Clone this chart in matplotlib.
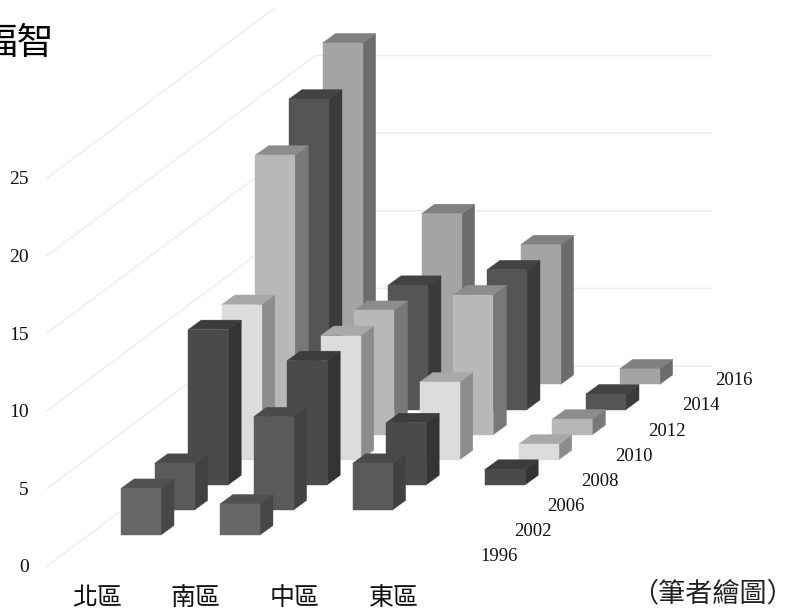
import matplotlib
matplotlib.use('Agg')
import matplotlib.pyplot as plt
from matplotlib.patches import Polygon

SERIF = ['Liberation Serif', 'DejaVu Serif']
CJK = ['Noto Sans CJK TC', 'DejaVu Sans']

regions = ['北區', '南區', '中區', '東區']
years = ['1996', '2002', '2006', '2008', '2010', '2012', '2014', '2016']
north = [3, 3, 10, 10, 18, 20, 22, 0]
south = [2, 6, 8, 8, 8, 8, 11, 0]
central = [0, 3, 4, 5, 9, 9, 9, 0]
east = [0, 0, 1, 1, 1, 1, 1, 0]
y_ticks = [0, 5, 10, 15, 20, 25]

front_colors = ['#676767', '#5a5a5a', '#4a4a4a', '#dcdcdc', '#b8b8b8', '#555555', '#a4a4a4', '#a4a4a4']
side_colors = ['#474747', '#414141', '#343434', '#8c8c8c', '#787878', '#3b3b3b', '#6c6c6c', '#6c6c6c']
top_colors = ['#515151', '#4a4a4a', '#3c3c3c', '#a8a8a8', '#8c8c8c', '#424242', '#808080', '#808080']

# oblique projection, in picture pixels
UNIT = 15.52
CAT_STEP = 99.0
DEPTH_DX = 33.6
DEPTH_DY = -25.1
BAR_W = 40.0
SIDE_DX = 13.0
SIDE_DY = -9.5


def draw_bar(ax, cat, depth, value):
    x0 = 121 + CAT_STEP * cat + DEPTH_DX * depth
    y0 = 535 + DEPTH_DY * depth
    y1 = y0 - value * UNIT
    x1 = x0 + BAR_W
    ax.add_patch(Polygon([(x1, y0), (x1 + SIDE_DX, y0 + SIDE_DY), (x1 + SIDE_DX, y1 + SIDE_DY), (x1, y1)],
                         facecolor=side_colors[depth], edgecolor=side_colors[depth], linewidth=0.3, zorder=3))
    ax.add_patch(Polygon([(x0, y1), (x1, y1), (x1 + SIDE_DX, y1 + SIDE_DY), (x0 + SIDE_DX, y1 + SIDE_DY)],
                         facecolor=top_colors[depth], edgecolor=top_colors[depth], linewidth=0.3, zorder=3))
    ax.add_patch(Polygon([(x0, y0), (x1, y0), (x1, y1), (x0, y1)],
                         facecolor=front_colors[depth], edgecolor=front_colors[depth], linewidth=0.3, zorder=3))


def main():
    fig = plt.figure(figsize=(7.87, 6.11), dpi=100)
    ax = fig.add_axes([0, 0, 1, 603 / 611])
    ax.set_xlim(0, 787)
    ax.set_ylim(611, 8)
    ax.axis('off')

    # gridlines: left wall then back wall
    for tick in y_ticks:
        y = 566 - tick * UNIT
        ax.plot([47, 315, 712], [y, y - 200, y - 200], color='#ececec', linewidth=1.0, zorder=1)
        ax.text(29, y + 2, str(tick), family=SERIF, fontsize=14, ha='right', va='center', color='#111111')

    all_values = [north, south, central, east]
    for depth in range(len(years) - 1, -1, -1):
        for cat in range(len(regions)):
            if all_values[cat][depth] > 0:
                draw_bar(ax, cat, depth, all_values[cat][depth])
        ax.text(499 + DEPTH_DX * depth, 556.5 + DEPTH_DY * depth, years[depth], family=SERIF,
                fontsize=13.5, ha='center', va='center', color='#111111')

    for cat, name in enumerate(regions):
        ax.text(97 + CAT_STEP * cat, 598, name, family=CJK, fontsize=18, ha='center', va='center',
                color='#111111', clip_on=False)

    ax.text(54, 43, '福智', family=CJK, fontsize=26.5, ha='right', va='center', color='black')
    ax.text(713, 594, '（筆者繪圖）', family=CJK, fontsize=19.5, ha='center', va='center', color='#222222')

    fig.savefig('out.png', dpi=100)


if __name__ == '__main__':
    main()
